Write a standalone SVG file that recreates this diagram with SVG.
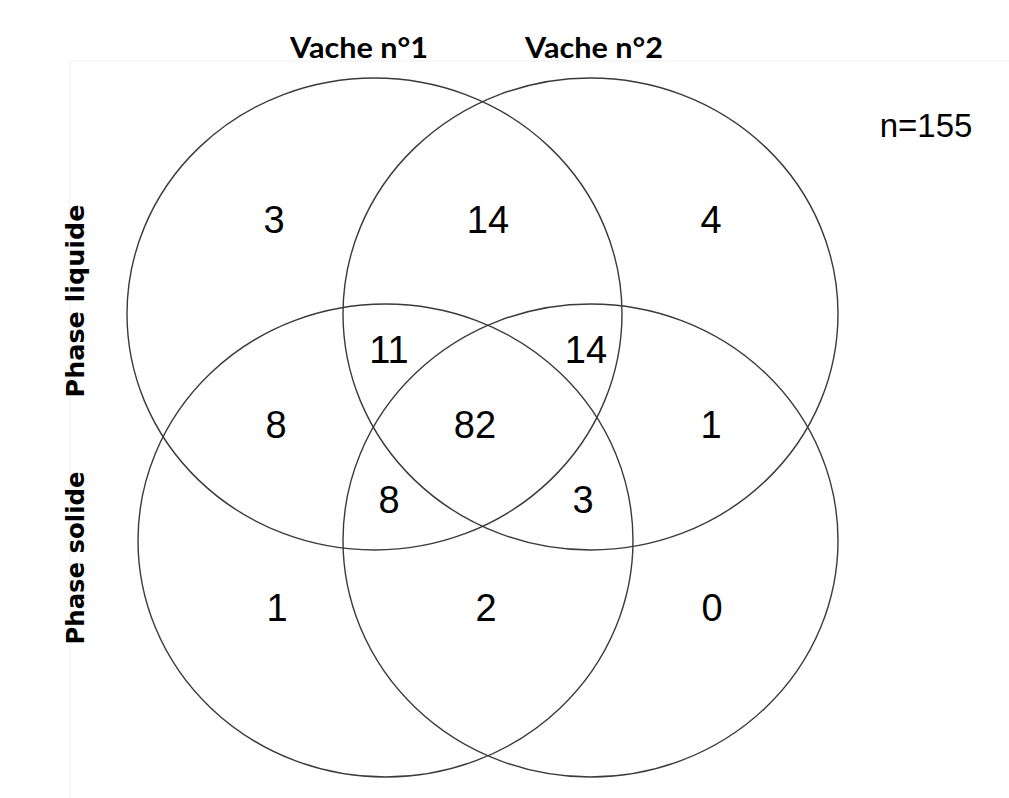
<svg xmlns="http://www.w3.org/2000/svg" width="1009" height="798" viewBox="0 0 1009 798">
<style>
.set{fill:none;stroke:#3a3a3a;stroke-width:1.4}
.num{font-family:"Liberation Sans",Arial,sans-serif;font-size:38px;fill:#000;text-anchor:middle}
.hdr{font-family:Lato,"Open Sans",sans-serif;font-weight:bold;font-size:29px;fill:#000;text-anchor:middle}
.side{font-family:"DejaVu Sans",Verdana,sans-serif;font-weight:bold;font-size:25px;fill:#000;text-anchor:middle}
.frame{stroke:#efefef;stroke-width:1;fill:none}
</style>
<rect width="1009" height="798" fill="#fff"/>
<path class="frame" d="M70,61 H1009 M70,61 V798"/>
<g id="sets">
<g id="set-liquide-vache1"><ellipse class="set" cx="374.5" cy="314" rx="247.5" ry="236"/></g>
<g id="set-liquide-vache2"><ellipse class="set" cx="590.5" cy="314" rx="247.5" ry="236"/></g>
<g id="set-solide-vache1"><ellipse class="set" cx="385.5" cy="540.5" rx="247.5" ry="236.5"/></g>
<g id="set-solide-vache2"><ellipse class="set" cx="590.5" cy="540.5" rx="247.5" ry="236.5"/></g>
</g>
<g id="labels">
<text class="hdr" x="359" y="58" textLength="138" lengthAdjust="spacingAndGlyphs">Vache n°1</text>
<text class="hdr" x="594" y="58" textLength="138" lengthAdjust="spacingAndGlyphs">Vache n°2</text>
<text class="side" transform="translate(84,301) rotate(-90)" textLength="193" lengthAdjust="spacingAndGlyphs">Phase liquide</text>
<text class="side" transform="translate(84,558) rotate(-90)" textLength="173" lengthAdjust="spacingAndGlyphs">Phase solide</text>
<text class="num" x="926" y="137" style="font-size:33px">n=155</text>
</g>
<g id="counts">
<text class="num" x="274" y="233">3</text>
<text class="num" x="488" y="233">14</text>
<text class="num" x="711" y="233">4</text>
<text class="num" x="389" y="363">11</text>
<text class="num" x="586" y="363">14</text>
<text class="num" x="276" y="438">8</text>
<text class="num" x="475" y="438">82</text>
<text class="num" x="711" y="438">1</text>
<text class="num" x="389" y="513">8</text>
<text class="num" x="583" y="513">3</text>
<text class="num" x="277" y="621">1</text>
<text class="num" x="486" y="621">2</text>
<text class="num" x="712" y="621">0</text>
</g>
</svg>
